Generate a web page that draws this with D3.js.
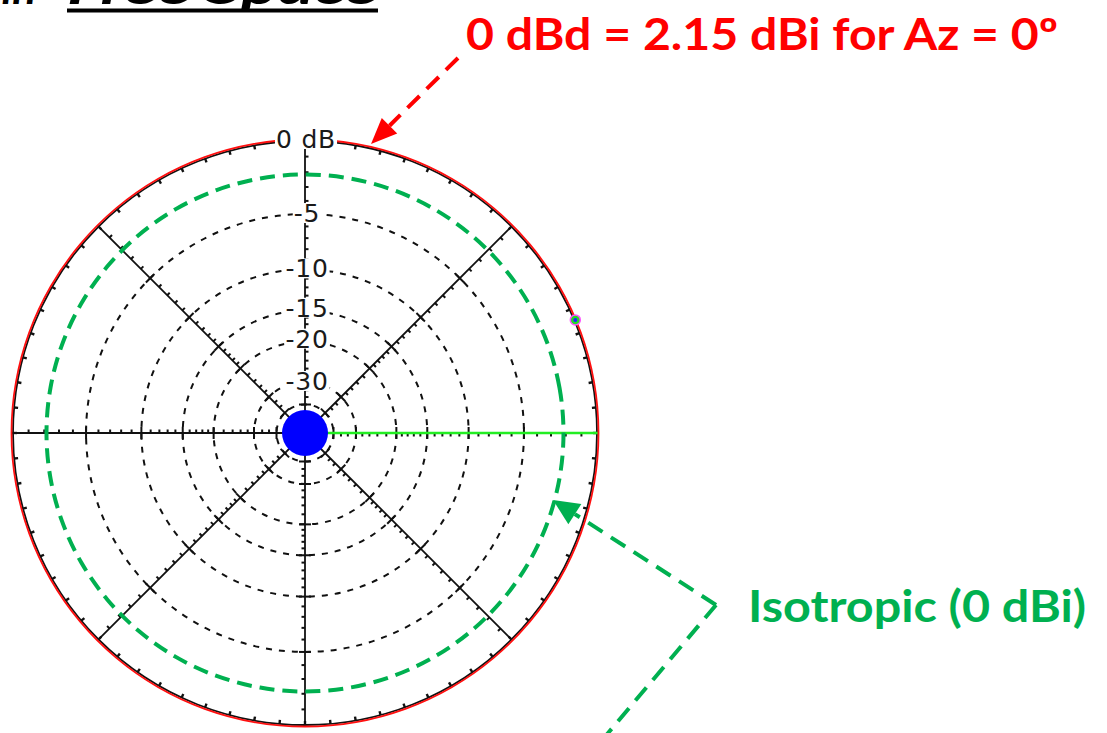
<!DOCTYPE html>
<html>
<head>
<meta charset="utf-8">
<script src="https://cdn.jsdelivr.net/npm/d3@7"></script>
<style>
  html, body { margin: 0; padding: 0; background: #fff; }
  svg { display: block; }
</style>
</head>
<body>
<svg id="chart" width="1107" height="733"></svg>
<script>
// ---------------- data ----------------
const ringLevels = [0, -5, -10, -15, -20, -30, -40];          // dB grid rings
const ringLabels = ["0 dB", "-5", "-10", "-15", "-20", "-30"]; // labels on the vertical axis
const labelLevels = [0, -5, -10, -15, -20, -30];
const tickLevels = [-1,-2,-3,-4,-6,-7,-8,-9,-11,-12,-13,-14,-16,-17,-18,-19,-22,-24,-26,-28,-33,-36];
const axisAzimuths = [0, 45, 90, 135, 180, 225, 270, 315];
const patternAz   = [0,10,20,30,40,50,60,70,80,90,100,110,120,130,140,150,160,170,180,190,200,210,220,230,240,250,260,270,280,290,300,310,320,330,340,350];
const patternGain = [0,0,0,0,0,0,0,0,0,0,0,0,0,0,0,0,0,0,0,0,0,0,0,0,0,0,0,0,0,0,0,0,0,0,0,0]; // dBd
const isotropicGain = -2.15;   // 0 dBi expressed in dBd
const cursorAz = 0;            // azimuth cursor
const markerAz = 22.7;         // small marker on the pattern
const titleText = ["Dipole in", "Free Space"];
const redNote = "0 dBd = 2.15 dBi for Az = 0º";
const greenNote = "Isotropic (0 dBi)";

// ---------------- layout ----------------
const cx = 305, cy = 433, R = 293;
const svg = d3.select("#chart");

// ARRL log-periodic radial scale: r ~ E^0.506, E = 10^(dB/20)
const rScale = d3.scalePow().exponent(0.5061).domain([0, 1]).range([0, R]);
const dbR = dB => rScale(Math.pow(10, dB / 20));
const angle = d3.scaleLinear().domain([0, 360]).range([0, 2 * Math.PI]);
const px = (az, r) => cx + r * Math.cos(angle(az));
const py = (az, r) => cy - r * Math.sin(angle(az));

const g = svg.append("g");

// dashed grid rings
g.selectAll("circle.ring").data(ringLevels.filter(d => d < 0)).join("circle")
  .attr("cx", cx).attr("cy", cy).attr("r", d => dbR(d))
  .attr("fill", "none").attr("stroke", "#111").attr("stroke-width", 2)
  .attr("stroke-dasharray", "6,7");

// outer 0 dB ring (black) with ticks every 5 degrees
g.append("circle").attr("cx", cx).attr("cy", cy).attr("r", dbR(0) - 1)
  .attr("fill", "none").attr("stroke", "#111").attr("stroke-width", 1.8);
const outerTicks = d3.range(0, 360, 5);
g.selectAll("line.otick").data(outerTicks).join("line")
  .attr("x1", d => px(d, R - 1)).attr("y1", d => py(d, R - 1))
  .attr("x2", d => px(d, R - 5)).attr("y2", d => py(d, R - 5))
  .attr("stroke", "#111").attr("stroke-width", 2.4);

// axes
g.selectAll("line.axis").data(axisAzimuths).join("line")
  .attr("x1", cx).attr("y1", cy)
  .attr("x2", d => px(d, R)).attr("y2", d => py(d, R))
  .attr("stroke", "#111").attr("stroke-width", 1.8);

// axis ticks
const tickData = [];
axisAzimuths.forEach(az => {
  tickLevels.forEach(l => tickData.push({az, l, major: false}));
  ringLevels.filter(l => l < 0).forEach(l => tickData.push({az, l, major: true}));
});
const perp = (d, k) => [k * Math.cos(angle(d.az + 90)), -k * Math.sin(angle(d.az + 90))];
g.selectAll("line.atick").data(tickData).join("line")
  .attr("x1", d => px(d.az, dbR(d.l)) + perp(d, d.major ? -6 : 0)[0])
  .attr("y1", d => py(d.az, dbR(d.l)) + perp(d, d.major ? -6 : 0)[1])
  .attr("x2", d => px(d.az, dbR(d.l)) + perp(d, d.major ? 6 : -3.5)[0])
  .attr("y2", d => py(d.az, dbR(d.l)) + perp(d, d.major ? 6 : -3.5)[1])
  .attr("stroke", "#111").attr("stroke-width", 2);

// azimuth cursor (green)
g.append("line")
  .attr("x1", cx).attr("y1", cy)
  .attr("x2", px(cursorAz, R)).attr("y2", py(cursorAz, R))
  .attr("stroke", "#22ee22").attr("stroke-width", 2.4);

// isotropic dashed circle
const iso = patternAz.map(a => [-angle(a), dbR(isotropicGain)]);
g.append("path")
  .attr("transform", `translate(${cx},${cy}) rotate(90)`)
  .attr("d", d3.lineRadial().curve(d3.curveCardinalClosed)(iso))
  .attr("fill", "none").attr("stroke", "#00b050").attr("stroke-width", 4)
  .attr("stroke-dasharray", "15,8");

// pattern (red)
const pat = patternAz.map((a, i) => [-angle(a), dbR(patternGain[i]) + 0.5]);
g.append("path")
  .attr("transform", `translate(${cx},${cy}) rotate(90)`)
  .attr("d", d3.lineRadial().curve(d3.curveCardinalClosed)(pat))
  .attr("fill", "none").attr("stroke", "#ff1010").attr("stroke-width", 1.8);

// marker on pattern
g.append("circle").attr("cx", px(markerAz, R)).attr("cy", py(markerAz, R)).attr("r", 5)
  .attr("fill", "#22dd22").attr("stroke", "#ff55ff").attr("stroke-width", 1.5);
g.append("circle").attr("cx", px(markerAz, R)).attr("cy", py(markerAz, R)).attr("r", 2)
  .attr("fill", "#2222ff");

// ring labels with white backgrounds
const labelShift = [1, 1, 1, 3, 3, 1];
const lab = g.selectAll("g.lab").data(labelLevels).join("g")
  .attr("transform", (d, i) => `translate(${i === 0 ? cx + 1 : cx + 2},${cy - dbR(d) - labelShift[i]})`);
lab.append("text")
  .attr("text-anchor", "middle").attr("dy", "0.36em")
  .attr("font-family", "DejaVu Sans, sans-serif").attr("font-size", 25)
  .attr("letter-spacing", 0.8)
  .attr("fill", "#1a1a1a")
  .text((d, i) => ringLabels[i]);
lab.each(function () {
  const t = d3.select(this).select("text");
  const b = t.node().getBBox();
  d3.select(this).insert("rect", "text")
    .attr("x", b.x - 1).attr("y", -10).attr("width", b.width + 2).attr("height", 20)
    .attr("fill", "#fff");
});

// center blue dot
g.append("circle").attr("cx", cx).attr("cy", cy).attr("r", 23).attr("fill", "#0000ff");

// ---------------- annotations ----------------
// cut-off title
svg.append("text").attr("x", 36).attr("y", 4).attr("text-anchor", "end")
  .attr("font-family", "Lato, sans-serif").attr("font-weight", "bold").attr("font-style", "italic")
  .attr("font-size", 44).attr("fill", "#000").text(titleText[0]);
svg.append("text").attr("x", 67).attr("y", 4)
  .attr("font-family", "Lato, sans-serif").attr("font-weight", "bold").attr("font-style", "italic")
  .attr("font-size", 44).attr("fill", "#000")
  .attr("textLength", 311).attr("lengthAdjust", "spacingAndGlyphs").text(titleText[1]);
svg.append("rect").attr("x", 67).attr("y", 8.5).attr("width", 311).attr("height", 4).attr("fill", "#000");

// red note
svg.append("text").attr("x", 466).attr("y", 50)
  .attr("font-family", "Lato, sans-serif").attr("font-weight", "bold")
  .attr("font-size", 44).attr("fill", "#ff0000")
  .attr("textLength", 592).attr("lengthAdjust", "spacingAndGlyphs").text(redNote);

// dashed arrows
function arrow(sel, start, tip, color, headLen, headW) {
  const dx = tip[0] - start[0], dy = tip[1] - start[1];
  const L = Math.hypot(dx, dy), ux = dx / L, uy = dy / L;
  const bx = tip[0] - ux * headLen, by = tip[1] - uy * headLen;
  sel.append("line").attr("x1", start[0]).attr("y1", start[1]).attr("x2", bx).attr("y2", by)
    .attr("stroke", color).attr("stroke-width", 4).attr("stroke-dasharray", "17,10");
  sel.append("path").attr("d", d3.line()([
    tip, [bx - uy * headW / 2, by + ux * headW / 2], [bx + uy * headW / 2, by - ux * headW / 2]
  ]) + "Z").attr("fill", color);
}
arrow(svg, [458, 58], [371, 144], "#ff0000", 26, 22);

// green note
svg.append("text").attr("x", 748).attr("y", 622)
  .attr("font-family", "Lato, sans-serif").attr("font-weight", "bold")
  .attr("font-size", 44).attr("fill", "#00b050")
  .attr("textLength", 338).attr("lengthAdjust", "spacingAndGlyphs").text(greenNote);

// green chevron arrows
const vertex = [716, 605];
arrow(svg, vertex, [553, 500], "#00b050", 26, 24);
svg.append("line").attr("x1", vertex[0]).attr("y1", vertex[1]).attr("x2", 598).attr("y2", 745)
  .attr("stroke", "#00b050").attr("stroke-width", 4).attr("stroke-dasharray", "17,10");
</script>
</body>
</html>
